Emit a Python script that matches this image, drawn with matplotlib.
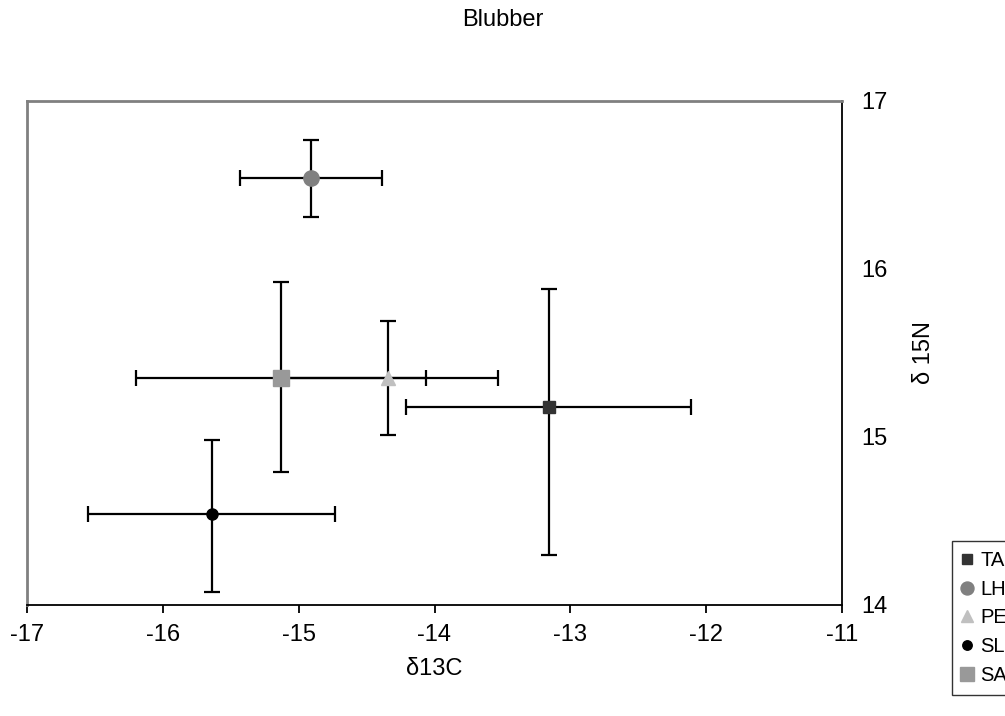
import matplotlib.pyplot as plt

plt.rcParams['font.family'] = ['Liberation Sans', 'DejaVu Sans']
plt.rcParams['axes.unicode_minus'] = False

# group means and spreads
groups = ['TA', 'LH', 'PE', 'SL', 'SA']
d13c = [-13.16, -14.91, -14.34, -15.64, -15.13]
d15n = [15.18, 16.54, 15.35, 14.54, 15.35]
xerr = [1.05, 0.52, 0.81, 0.91, 1.07]
yerr_up = [0.70, 0.23, 0.34, 0.44, 0.57]
yerr_dn = [0.88, 0.23, 0.34, 0.46, 0.56]

markers = ['s', 'o', '^', 'o', 's']
colors = ['#333333', '#808080', '#c0c0c0', '#000000', '#999999']
msizes = [9, 11, 10, 8, 12]

fig = plt.figure(figsize=(10.05, 7.16), dpi=100)
ax = fig.add_axes([27/1005, 111/716, 815/1005, 504/716])

handles = []
for i in range(len(groups)):
    ax.errorbar(d13c[i], d15n[i], xerr=xerr[i],
                yerr=[[yerr_dn[i]], [yerr_up[i]]],
                fmt='none', ecolor='black', elinewidth=1.6,
                capsize=5.5, capthick=1.6, zorder=2)
    h, = ax.plot(d13c[i], d15n[i], linestyle='none', marker=markers[i],
                 color=colors[i], markersize=msizes[i], zorder=3,
                 label=groups[i])
    handles.append(h)

ax.set_xlim(-17, -11)
ax.set_ylim(14, 17)
ax.set_xticks([-17, -16, -15, -14, -13, -12, -11])
ax.set_yticks([14, 15, 16, 17])
ax.yaxis.tick_right()
ax.yaxis.set_label_position('right')
ax.tick_params(axis='x', direction='out', length=6, width=1.3, labelsize=17, pad=8)
ax.tick_params(axis='y', direction='in', length=0, labelsize=17, pad=14)

for s in ['top', 'left']:
    ax.spines[s].set_color('#808080')
    ax.spines[s].set_linewidth(2)
for s in ['bottom', 'right']:
    ax.spines[s].set_color('black')
    ax.spines[s].set_linewidth(1.3)

ax.set_xlabel('δ13C', fontsize=17, labelpad=8)
ax.set_ylabel('δ 15N', fontsize=17, labelpad=18)
fig.text(0.5, 1 - 20/716, 'Blubber', ha='center', va='center', fontsize=17)

leg = fig.legend(handles=handles, loc='upper left',
                 bbox_to_anchor=(952/1005, 1 - 541/716),
                 fontsize=14.5, frameon=True, fancybox=False,
                 handlelength=0.5, handletextpad=0.4, labelspacing=0.48,
                 borderpad=0.5, borderaxespad=0, markerscale=0.85)
leg.get_frame().set_edgecolor('black')
leg.get_frame().set_linewidth(1)

fig.savefig('out.png', dpi=100)
